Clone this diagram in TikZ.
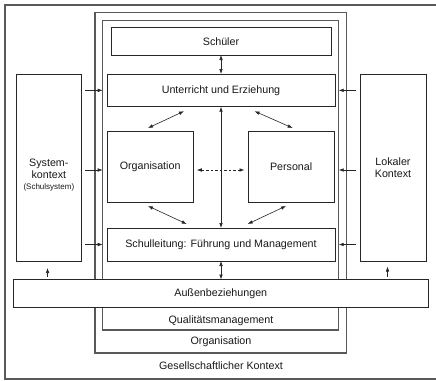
\documentclass[tikz,border=0pt]{standalone}
\usepackage{fontspec}
\setmainfont{Liberation Sans}
\usetikzlibrary{arrows.meta,calc}
\begin{document}
\begin{tikzpicture}[x=1pt,y=-1pt,
  every node/.style={inner sep=0pt,outer sep=0pt,text=black!90,font=\fontsize{10.7}{12}\selectfont},
  frame/.style={draw=black!65,line width=1.2pt,rectangle},
  box/.style={draw=black!85,line width=0.9pt,fill=white,rectangle,align=center},
  lbl/.style={anchor=center},
  arr/.style={draw=black!85,line width=0.6pt,-{Latex[length=5pt,width=3.6pt]}},
  darr/.style={draw=black!85,line width=0.6pt,{Latex[length=5pt,width=3.6pt]}-{Latex[length=5pt,width=3.6pt]}}
]
\useasboundingbox (0,0) rectangle (436,380);
\fill[white] (0,0) rectangle (436,380);
% frames
\node[frame,minimum width=435pt,minimum height=374pt] (outer) at (222.5,192) {};
\node[frame,minimum width=251.7pt,minimum height=340.5pt] (orgframe) at (220.85,182.75) {};
\node[frame,minimum width=236pt,minimum height=309.3pt] (qual) at (220.7,175.35) {};
% boxes
\node[box,minimum width=220pt,minimum height=27.3pt] (schueler) at (221,41.35) {Schüler};
\node[box,minimum width=228pt,minimum height=32.7pt] (unterricht) at (221,90.35) {Unterricht und Erziehung};
\node[box,minimum width=86.3pt,minimum height=71pt] (orga) at (150.15,166.5) {Organisation};
\node[box,minimum width=86.3pt,minimum height=71pt] (personal) at (291.15,166.5) {Personal};
\node[box,minimum width=228pt,minimum height=33pt] (schulleitung) at (221,244.5) {Schulleitung: Führung und Management};
\node[box,minimum width=65.7pt,minimum height=187pt] (system) at (48.85,167.5) {};
\node[lbl,align=center] (systext) at (48.85,175) {System-\\kontext\\[-1pt]{\fontsize{8}{10}\selectfont(Schulsystem)}};
\node[box,minimum width=66pt,minimum height=187.5pt] (lokal) at (393,167.75) {Lokaler\\Kontext};
\node[box,minimum width=415pt,minimum height=28pt] (aussen) at (220.8,293.5) {Außenbeziehungen};
% frame labels
\node[lbl] (qlabel) at (221,321) {Qualitätsmanagement};
\node[lbl] (olabel) at (221,341.5) {Organisation};
\node[lbl] (glabel) at (221,366) {Gesellschaftlicher Kontext};
% vertical double arrows
\draw[darr] (schueler) -- (unterricht);
\draw[darr] (unterricht) -- (schulleitung);
\draw[darr] (schulleitung) -- (aussen.north -| schulleitung);
% left arrows
\draw[arr,shorten <=3.3pt] (system.east |- unterricht) -- (qual.west |- unterricht);
\draw[arr,shorten <=3.3pt] ($(system.east |- orga)+(0,3.5)$) -- ($(qual.west |- orga)+(0,3.5)$);
\draw[arr,shorten <=3.3pt] (system.east |- schulleitung) -- (qual.west |- schulleitung);
% right arrows
\draw[arr,shorten <=4pt] (lokal.west |- unterricht) -- (qual.east |- unterricht);
\draw[arr,shorten <=4pt] ($(lokal.west |- personal)+(0,3.5)$) -- ($(qual.east |- personal)+(0,3.5)$);
\draw[arr,shorten <=4pt] (lokal.west |- schulleitung) -- (qual.east |- schulleitung);
% up arrows from Aussenbeziehungen
\draw[arr,shorten <=3pt,shorten >=7pt] ($(aussen.north -| system)+(-1.3,0)$) -- ($(system.south)+(-1.3,0)$);
\draw[arr,shorten <=3pt,shorten >=5pt] ($(aussen.north -| lokal)+(-5.5,0)$) -- ($(lokal.south)+(-5.5,0)$);
% diagonals
\draw[darr] ($(unterricht.south west)+(77,4.5)$) -- ($(orga.north west)+(41,-3)$);
\draw[darr] ($(unterricht.south west)+(147.5,4.5)$) -- ($(personal.north west)+(44.7,-3)$);
\draw[darr] ($(orga.south west)+(41,4)$) -- ($(schulleitung.north west)+(79.7,-4)$);
\draw[darr] ($(personal.south west)+(38,4)$) -- ($(schulleitung.north west)+(140.7,-4)$);
% dashed
\draw[darr,dash pattern=on 2.5pt off 2pt,shorten <=3.5pt,shorten >=3.5pt] ($(orga.east)+(0,3.5)$) -- ($(personal.west)+(0,3.5)$);
\end{tikzpicture}
\end{document}
